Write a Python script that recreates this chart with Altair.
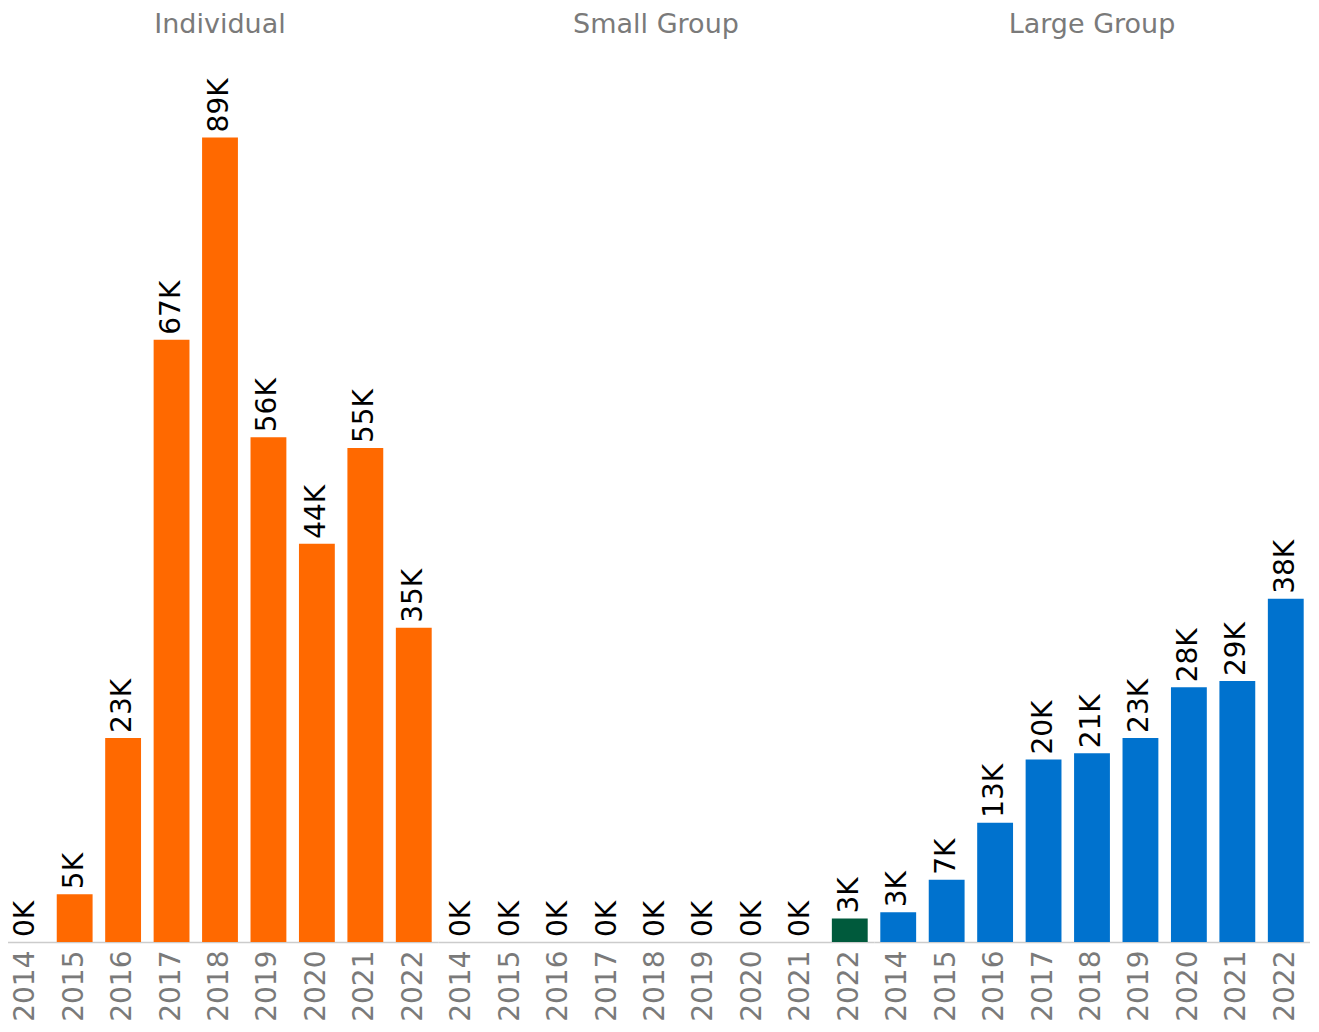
import altair as alt
import pandas as pd

segments = ["Individual", "Small Group", "Large Group"]
years = ["2014", "2015", "2016", "2017", "2018", "2019", "2020", "2021", "2022"]
individual = [0.0, 5.3, 22.6, 66.7, 89.1, 55.9, 44.1, 54.7, 34.8]
small_group = [0.0, 0.0, 0.0, 0.0, 0.0, 0.0, 0.0, 0.0, 2.6]
large_group = [3.3, 6.9, 13.2, 20.2, 20.9, 22.6, 28.2, 28.9, 38.0]
colors = ["#FF6900", "#005A3C", "#0072CE"]

rows = []
for seg, vals in zip(segments, [individual, small_group, large_group]):
    for y, v in zip(years, vals):
        rows.append({"segment": seg, "year": y, "value": v})
df = pd.DataFrame(rows)

FONT = "DejaVu Sans"
H = 891
D = H / 9.03

base = alt.Chart().encode(
    x=alt.X("year:N", sort=years, title=None,
            scale=alt.Scale(paddingInner=0.26, paddingOuter=0.13),
            axis=alt.Axis(labelAngle=270, labelFontSize=28, labelFont=FONT,
                          labelColor="#7a7a7a", ticks=False, labelPadding=8,
                          domainColor="#cccccc", domainWidth=1.5, grid=False)),
)

bars = base.mark_bar().encode(
    y=alt.Y("value:Q", axis=None, scale=alt.Scale(domain=[0, D], nice=False, zero=True)),
    color=alt.Color("segment:N", scale=alt.Scale(domain=segments, range=colors), legend=None),
)

text = base.transform_calculate(
    label="format(datum.value, '.0f') + 'K'"
).mark_text(angle=270, align="left", baseline="middle", dx=5,
            fontSize=28, font=FONT, color="#000000").encode(
    y=alt.Y("value:Q", axis=None, scale=alt.Scale(domain=[0, D], nice=False, zero=True)),
    text="label:N",
)

chart = alt.layer(bars, text, data=df).properties(
    width=436, height=H
).facet(
    column=alt.Column("segment:N", sort=segments,
                      header=alt.Header(title=None, labelFontSize=27, labelFont=FONT,
                                        labelColor="#7a7a7a", labelPadding=12)),
    spacing=0,
).configure_view(stroke=None).properties(
    padding={"left": -6, "top": 3, "right": 0, "bottom": 0}
)

chart.save("out.html", embed_options={"renderer": "svg", "actions": False})
